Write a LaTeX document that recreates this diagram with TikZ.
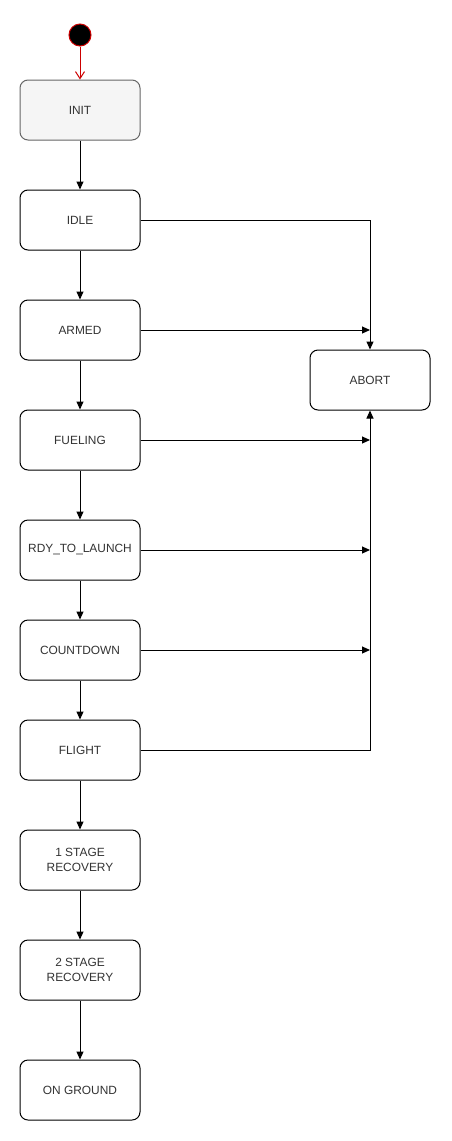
\documentclass[tikz,border=0pt]{standalone}
\usepackage{fontspec}
\setmainfont{Liberation Sans}
\usetikzlibrary{arrows.meta}
\definecolor{txt}{HTML}{333333}
\definecolor{initfill}{HTML}{F5F5F5}
\definecolor{initdraw}{HTML}{666666}
\definecolor{startred}{HTML}{CC0000}
\tikzset{
  statebox/.style={draw=black, line width=1pt, rounded corners=8pt, minimum width=120pt, minimum height=60pt, inner sep=0pt, align=center, text=txt, font=\fontsize{11.9}{15}\selectfont, fill=white},
  initbox/.style={statebox, fill=initfill, draw=initdraw},
  conn/.style={draw=black, line width=1pt, -{Triangle[length=8pt,width=7pt]}},
  startconn/.style={draw=startred, line width=1pt, -{Straight Barb[length=7pt,width=9pt]}},
}
\begin{document}
\begin{tikzpicture}[x=1pt,y=-1pt]
\useasboundingbox (0,0) rectangle (451,1141);
\node[circle, fill=black, draw=startred, line width=1pt, minimum size=22pt, inner sep=0pt] (start) at (80,35) {};
\node[initbox] (init) at (80,110) {INIT};
\node[statebox] (idle) at (80,220) {IDLE};
\node[statebox] (armed) at (80,330) {ARMED};
\node[statebox] (fueling) at (80,440) {FUELING};
\node[statebox] (rdy) at (80,550) {RDY\_TO\_LAUNCH};
\node[statebox] (countdown) at (80,650) {COUNTDOWN};
\node[statebox] (flight) at (80,750) {FLIGHT};
\node[statebox] (s1) at (80,860) {1 STAGE\\RECOVERY};
\node[statebox] (s2) at (80,970) {2 STAGE\\RECOVERY};
\node[statebox] (ground) at (80,1090) {ON GROUND};
\node[statebox] (abort) at (370,380) {ABORT};

\coordinate (cA) at (370,330);
\coordinate (cF) at (370,440);
\coordinate (cR) at (370,550);
\coordinate (cC) at (370,650);

\draw[startconn] (start) -- (init);
\draw[conn] (init) -- (idle);
\draw[conn] (idle) -- (armed);
\draw[conn] (armed) -- (fueling);
\draw[conn] (fueling) -- (rdy);
\draw[conn] (rdy) -- (countdown);
\draw[conn] (countdown) -- (flight);
\draw[conn] (flight) -- (s1);
\draw[conn] (s1) -- (s2);
\draw[conn] (s2) -- (ground);

\draw[conn] (idle.east) -| (abort.north);
\draw[conn] (flight.east) -| (abort.south);
\draw[conn] (armed.east) -- (cA);
\draw[conn] (fueling.east) -- (cF);
\draw[conn] (rdy.east) -- (cR);
\draw[conn] (countdown.east) -- (cC);
\end{tikzpicture}
\end{document}
